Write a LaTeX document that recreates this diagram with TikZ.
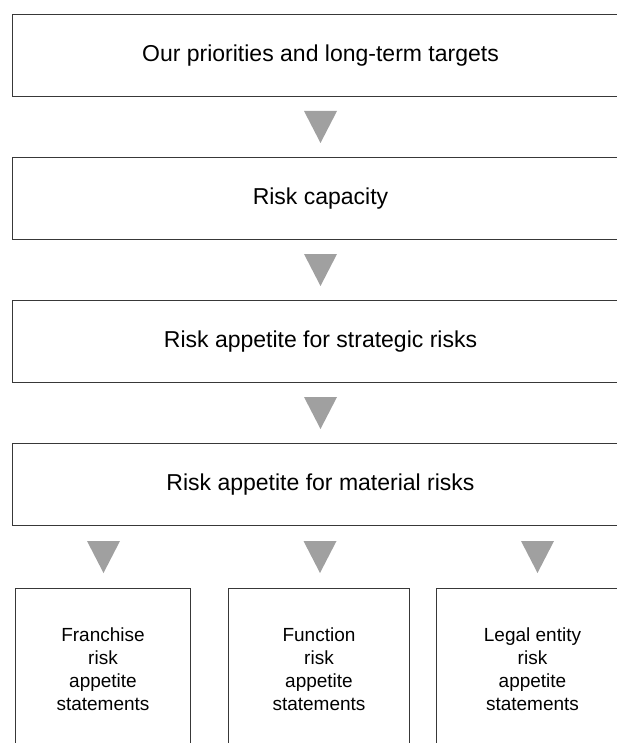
\documentclass[tikz,border=0pt]{standalone}
\usepackage{fontspec}
\setmainfont{Liberation Sans}
\usetikzlibrary{positioning,calc}

\definecolor{boxline}{HTML}{383838}
\definecolor{trigray}{HTML}{A0A0A0}

\begin{document}
\begin{tikzpicture}
		[node distance={60pt}, line width=1pt,
		 wide/.style = {draw=boxline, rectangle, minimum width=616pt, minimum height=82pt, inner sep=0pt, font=\fontsize{23}{27}\selectfont},
		 small/.style = {draw=boxline, rectangle, minimum height=162pt, inner sep=0pt, align=center, font=\fontsize{19}{23}\selectfont}]
        \useasboundingbox (0,0) rectangle (617pt,-743pt);
        \clip (0,0) rectangle (617pt,-743pt);

        \node[wide, anchor=north west] (targets) at (12pt,-14pt) {Our priorities and long-term targets};
        \node[wide] (capacity) [below = of targets] {Risk capacity};
        \node[wide] (strategic) [below = of capacity] {Risk appetite for strategic risks};
        \node[wide] (material) [below = of strategic] {Risk appetite for material risks};

        \node[small, minimum width=175pt, anchor=north west] (franchise) at ($(material.south west)+(3pt,-62pt)$) {Franchise\\risk\\appetite\\statements};
        \node[small, minimum width=181pt] (function) [right = 37pt of franchise] {Function\\risk\\appetite\\statements};
        \node[small, minimum width=192pt] (entity) [right = 26pt of function] {Legal entity\\risk\\appetite\\statements};

        % arrows between the levels
        \foreach \a/\b/\dx in {targets/capacity/0, capacity/strategic/0, strategic/material/0, material/franchise/0.5, material/function/1, material/entity/5}
            \fill[trigray] ($(\a.south -| \b.north)!0.5!(\b.north)+(\dx pt,0pt)$) ++(-16.5pt,16pt) -- ++(33pt,0pt) -- ++(-16.5pt,-32pt) -- cycle;
\end{tikzpicture}
\end{document}
